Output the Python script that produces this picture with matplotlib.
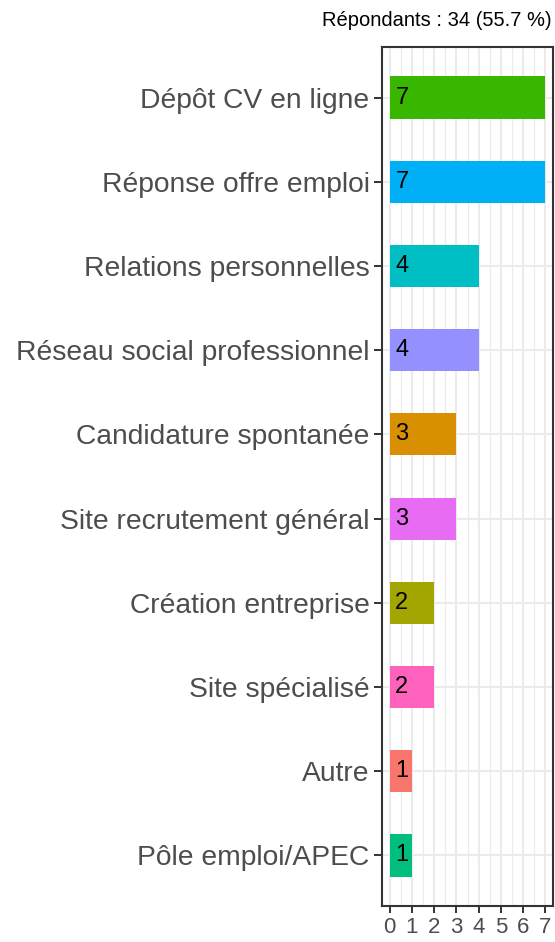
import numpy as np
import matplotlib.pyplot as plt
from matplotlib.ticker import MultipleLocator

plt.rcParams['font.family'] = ['Liberation Sans', 'DejaVu Sans']

# Data (top to bottom)
categories = ['Dépôt CV en ligne', 'Réponse offre emploi', 'Relations personnelles',
              'Réseau social professionnel', 'Candidature spontanée',
              'Site recrutement général', 'Création entreprise', 'Site spécialisé',
              'Autre', 'Pôle emploi/APEC']
counts = [7, 7, 4, 4, 3, 3, 2, 2, 1, 1]
colors = ['#39B600', '#00B0F6', '#00BFC4', '#9590FF', '#D89000',
          '#E76BF3', '#A3A500', '#FF62BC', '#F8766D', '#00BF7D']
title = 'Répondants : 34 (55.7 %)'

fig = plt.figure(figsize=(5.55, 9.42), dpi=100)
ax = fig.add_axes([382 / 555, 1 - 906 / 942, 171 / 555, 859 / 942])

y = np.arange(len(categories))[::-1] + 1
ax.barh(y, counts, height=0.5, color=colors, zorder=3)
for yi, c in zip(y, counts):
    ax.annotate(str(c), (0, yi), xytext=(4, 0), textcoords='offset points',
                ha='left', va='center', fontsize=17, color='black', zorder=4)

ax.set_xlim(-0.35, 7.35)
ax.set_ylim(0.4, 10.6)
ax.set_yticks(y)
ax.set_yticklabels(categories, fontsize=20.3, color='#4D4D4D')
ax.xaxis.set_major_locator(MultipleLocator(1))
ax.xaxis.set_minor_locator(MultipleLocator(0.5))
ax.tick_params(axis='x', labelsize=16, labelcolor='#4D4D4D', color='#333333',
               length=5, width=1.4, pad=3)
ax.tick_params(axis='x', which='minor', length=0)
ax.tick_params(axis='y', color='#333333', length=5.5, width=1.4, pad=3.5)

ax.grid(which='major', color='#EBEBEB', linewidth=1.5, zorder=0)
ax.grid(which='minor', axis='x', color='#EBEBEB', linewidth=0.8, zorder=0)
ax.set_axisbelow(True)
for s in ax.spines.values():
    s.set_color('#333333')
    s.set_linewidth(1.5)

fig.text(552 / 555, 1 - 20 / 942, title, ha='right', va='center', fontsize=14.5)

fig.savefig('out.png', dpi=100)
